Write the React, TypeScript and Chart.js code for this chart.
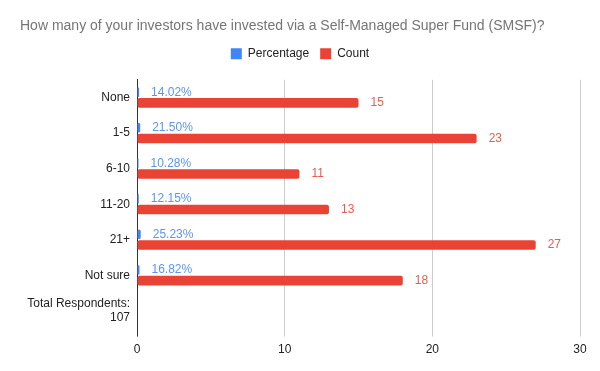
import React, { useEffect, useRef } from "react";
import { Chart, registerables } from "chart.js";

Chart.register(...registerables);

const categories: (string | string[])[] = ["None", "1-5", "6-10", "11-20", "21+", "Not sure", ["Total Respondents:", "107"]];
const percentageValues: (number | null)[] = [0.1402, 0.215, 0.1028, 0.1215, 0.2523, 0.1682, null];
const countValues: (number | null)[] = [15, 23, 11, 13, 27, 18, null];
const xTicks = [0, 10, 20, 30];

const FONT = "'Liberation Sans', Arial, sans-serif";

const labelPlugin = {
  id: "barLabels",
  afterDatasetsDraw(chart: any) {
    const ctx = chart.ctx;
    ctx.save();
    ctx.font = `12px ${FONT}`;
    ctx.textBaseline = "middle";
    ctx.textAlign = "left";
    chart.data.datasets.forEach((ds: any, di: number) => {
      const meta = chart.getDatasetMeta(di);
      meta.data.forEach((bar: any, i: number) => {
        const v = ds.data[i];
        if (v == null) return;
        const text = di === 0 ? (v * 100).toFixed(2) + "%" : String(v);
        ctx.fillStyle = di === 0 ? "#5a94f5" : "#eb5a4e";
        ctx.fillText(text, bar.x + 12, bar.y);
      });
    });
    ctx.restore();
  },
};

const legendSpacer = {
  id: "legendSpacer",
  beforeInit(chart: any) {
    const legend = chart.legend;
    if (!legend) return;
    const origFit = legend.fit;
    legend.fit = function () {
      origFit.call(this);
      this.height += 10;
    };
  },
};

export default function App() {
  const ref = useRef<HTMLCanvasElement>(null);
  useEffect(() => {
    document.body.style.margin = "0";
    const chart = new Chart(ref.current!, {
      type: "bar",
      data: {
        labels: categories,
        datasets: [
          {
            label: "Percentage",
            data: percentageValues,
            backgroundColor: "#4285F4",
            borderRadius: 2,
            borderSkipped: false,
            categoryPercentage: 0.6,
            barPercentage: 0.9,
          },
          {
            label: "Count",
            data: countValues,
            backgroundColor: "#EA4335",
            borderRadius: 2,
            borderSkipped: false,
            categoryPercentage: 0.6,
            barPercentage: 0.9,
          },
        ],
      },
      options: {
        indexAxis: "y",
        animation: false,
        responsive: false,
        layout: { padding: { left: 20, right: 20, top: 0, bottom: 8 } },
        plugins: {
          title: {
            display: true,
            text: "How many of your investors have invested via a Self-Managed Super Fund (SMSF)?",
            align: "start",
            color: "#757575",
            font: { family: FONT, size: 14, weight: "normal" },
            padding: { top: 18, bottom: 2 },
          },
          legend: {
            position: "top",
            labels: {
              boxWidth: 11,
              boxHeight: 11,
              color: "#222",
              font: { family: FONT, size: 12 },
              padding: 11,
            },
          },
          tooltip: { enabled: false },
        },
        scales: {
          x: {
            min: 0,
            max: 30,
            afterBuildTicks: (scale: any) => {
              scale.ticks = xTicks.map((v) => ({ value: v }));
            },
            grid: {
              color: "#cccccc",
              drawTicks: true,
              tickLength: 8,
              tickColor: (c: any) => (c.tick && c.tick.value === 0 ? "#333" : "#cccccc"),
            },
            border: { display: false },
            ticks: { color: "#222", font: { family: FONT, size: 12 }, padding: 6 },
          },
          y: {
            afterFit: (scale: any) => {
              scale.width = 117;
            },
            grid: { display: false, drawTicks: false },
            border: { display: true, color: "#333" },
            ticks: { color: "#222", font: { family: FONT, size: 12 }, padding: 7 },
          },
        },
      },
      plugins: [labelPlugin, legendSpacer],
    });
    return () => chart.destroy();
  }, []);
  return (
    <div style={{ width: 600, height: 371 }}>
      <canvas ref={ref} width={600} height={371} />
    </div>
  );
}
